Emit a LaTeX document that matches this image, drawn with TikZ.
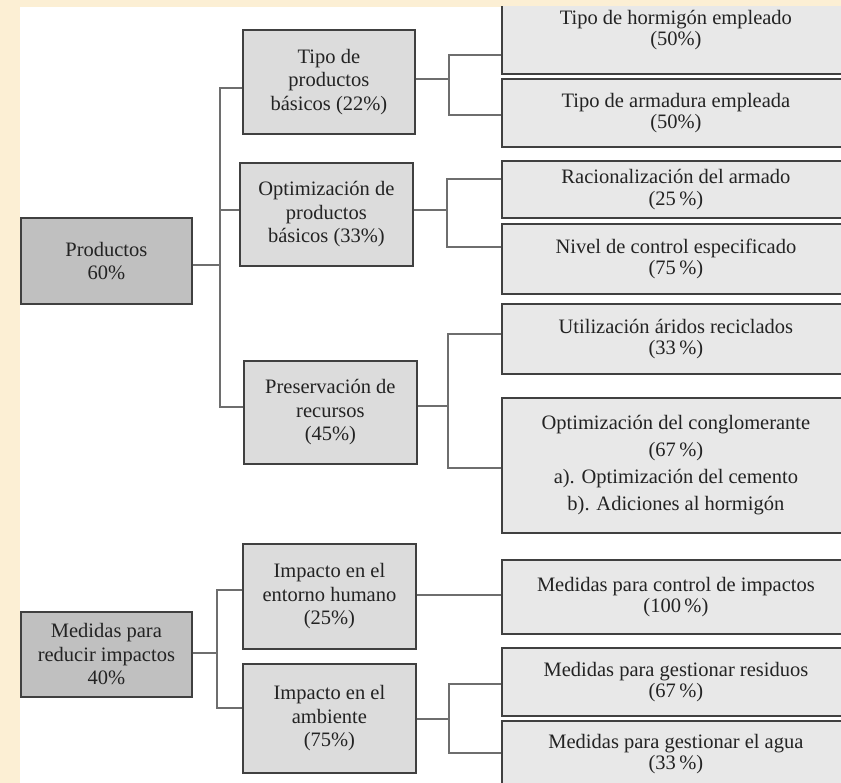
\documentclass[tikz,border=0pt]{standalone}
\usepackage{fontspec}
\setmainfont{Liberation Serif}
\definecolor{beige}{RGB}{252,239,212}
\definecolor{edgec}{RGB}{64,64,64}
\definecolor{wirec}{RGB}{110,110,110}
\definecolor{fillA}{RGB}{192,192,192}
\definecolor{fillB}{RGB}{220,220,220}
\definecolor{fillC}{RGB}{232,232,232}
\definecolor{ink}{RGB}{35,35,35}
\begin{document}
\begin{tikzpicture}[x=1pt,y=-1pt,
  box/.style={draw=edgec, line width=1.8pt, align=center, inner sep=0pt, text=ink, anchor=north west, font=\fontsize{20.5}{23.5}\selectfont},
  rootbox/.style={box, fill=fillA},
  midbox/.style={box, fill=fillB},
  leafbox/.style={box, fill=fillC, font=\fontsize{20.5}{21.5}\selectfont, minimum width=348pt},
  wire/.style={draw=wirec, line width=1.8pt}]
\useasboundingbox (0,0) rectangle (841,783);
\fill[beige] (0,0) rectangle (841,783);
\fill[white] (20,7) rectangle (841,783);
\begin{scope}
\clip (0,7) rectangle (841,783);
% level 1
\node[rootbox, minimum width=171pt, minimum height=86pt] (prod) at (20,217) {Productos\\60\%};
\node[rootbox, minimum width=171pt, minimum height=85pt] (med) at (20,611) {Medidas para\\reducir impactos\\40\%};
% level 2
\node[midbox, minimum width=172pt, minimum height=104pt] (tipo) at (242,29) {Tipo de\\productos\\básicos (22\%)};
\node[midbox, minimum width=173pt, minimum height=103pt] (optim) at (239,162) {Optimización de\\productos\\básicos (33\%)};
\node[midbox, minimum width=173pt, minimum height=103pt] (pres) at (243,360) {Preservación de\\recursos\\(45\%)};
\node[midbox, minimum width=173pt, minimum height=105pt] (ient) at (242,543) {Impacto en el\\entorno humano\\(25\%)};
\node[midbox, minimum width=173pt, minimum height=109pt] (iamb) at (242,663) {Impacto en el\\ambiente\\(75\%)};
% level 3
\node[leafbox, minimum height=88pt] (horm) at (501,-15) {Tipo de hormigón empleado\\(50\%)};
\node[leafbox, minimum height=68pt] (arm) at (501,78) {Tipo de armadura empleada\\(50\%)};
\node[leafbox, minimum height=57pt] (rac) at (501,160) {Racionalización del armado\\(25\,\%)};
\node[leafbox, minimum height=70pt] (niv) at (501,223) {Nivel de control especificado\\(75\,\%)};
\node[leafbox, minimum height=70pt] (util) at (501,303) {Utilización áridos reciclados\\(33\,\%)};
\node[leafbox, minimum height=135pt, font=\fontsize{20.5}{27}\selectfont] (cong) at (501,397) {Optimización del conglomerante\\(67\,\%)\\a). Optimización del cemento\\b). Adiciones al hormigón};
\node[leafbox, minimum height=74pt] (mcont) at (501,559) {Medidas para control de impactos\\(100\,\%)};
\node[leafbox, minimum height=68pt] (resid) at (501,647) {Medidas para gestionar residuos\\(67\,\%)};
\node[leafbox, minimum height=66pt] (agua) at (501,720) {Medidas para gestionar el agua\\(33\,\%)};
% junction coordinates
\coordinate (p0) at (220,265);
\coordinate (p1) at (220,88);
\coordinate (p2) at (220,210);
\coordinate (p3) at (220,407);
\coordinate (t0) at (449,79);
\coordinate (t1) at (449,55);
\coordinate (t2) at (449,115);
\coordinate (o0) at (447,210);
\coordinate (o1) at (447,179);
\coordinate (o2) at (447,247);
\coordinate (r0) at (448,406);
\coordinate (r1) at (448,334);
\coordinate (r2) at (448,468);
\coordinate (m0) at (217,653);
\coordinate (m1) at (217,590);
\coordinate (m2) at (217,708);
\coordinate (e0) at (415,595);
\coordinate (a0) at (449,719);
\coordinate (a1) at (449,684);
\coordinate (a2) at (449,753);
% connectors
\draw[wire] (p0 -| prod.east) -- (p0);
\draw[wire] (p1 -| tipo.west) -- (p1) -- (p3) -- (p3 -| pres.west);
\draw[wire] (p2) -- (p2 -| optim.west);
\draw[wire] (t0 -| tipo.east) -- (t0);
\draw[wire] (t1 -| horm.west) -- (t1) -- (t2) -- (t2 -| arm.west);
\draw[wire] (o0 -| optim.east) -- (o0);
\draw[wire] (o1 -| rac.west) -- (o1) -- (o2) -- (o2 -| niv.west);
\draw[wire] (r0 -| pres.east) -- (r0);
\draw[wire] (r1 -| util.west) -- (r1) -- (r2) -- (r2 -| cong.west);
\draw[wire] (m0 -| med.east) -- (m0);
\draw[wire] (m1 -| ient.west) -- (m1) -- (m2) -- (m2 -| iamb.west);
\draw[wire] (e0 -| ient.east) -- (e0 -| mcont.west);
\draw[wire] (a0 -| iamb.east) -- (a0);
\draw[wire] (a1 -| resid.west) -- (a1) -- (a2) -- (a2 -| agua.west);
\end{scope}
\end{tikzpicture}
\end{document}
